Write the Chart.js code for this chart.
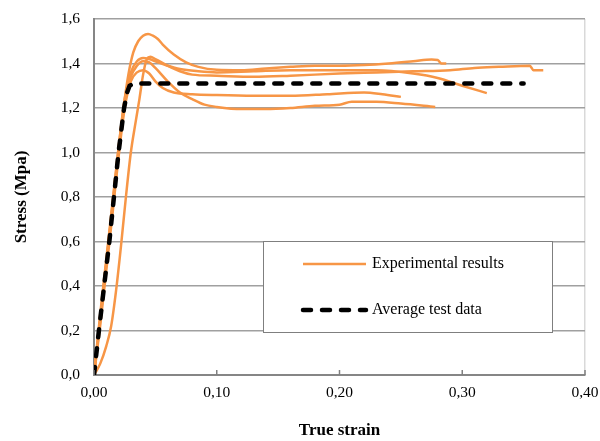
<!DOCTYPE html>
<html>
<head>
<meta charset="utf-8">
<script src="https://cdn.jsdelivr.net/npm/chart.js@4/dist/chart.umd.min.js"></script>
<style>
  html, body { margin: 0; padding: 0; background: #fff; }
  #wrap { width: 600px; height: 441px; }
</style>
</head>
<body>
<div id="wrap"><canvas id="c"></canvas></div>
<script>
// tick labels
const xTicks = [0, 0.1, 0.2, 0.3, 0.4];
const yTicks = [0, 0.2, 0.4, 0.6, 0.8, 1.0, 1.2, 1.4, 1.6];

// experimental curves, [strain, stress]
const test1 = [[0,0],[0.005,0.24],[0.01,0.5],[0.015,0.76],[0.02,1.02],[0.025,1.24],[0.028,1.35],[0.032,1.45],[0.036,1.5],[0.04,1.525],[0.044,1.533],[0.048,1.525],[0.052,1.51],[0.056,1.485],[0.065,1.44],[0.075,1.405],[0.085,1.385],[0.1,1.372],[0.12,1.37],[0.14,1.378],[0.16,1.385],[0.18,1.39],[0.2,1.39],[0.22,1.393],[0.24,1.4],[0.26,1.41],[0.275,1.418],[0.28,1.416],[0.283,1.4],[0.287,1.4]];
const test2 = [[0,0],[0.005,0.05],[0.01,0.13],[0.014,0.22],[0.018,0.38],[0.022,0.58],[0.026,0.8],[0.03,1.0],[0.034,1.14],[0.037,1.24],[0.04,1.35],[0.043,1.42],[0.046,1.43],[0.05,1.42],[0.06,1.39],[0.07,1.365],[0.08,1.35],[0.1,1.345],[0.13,1.34],[0.16,1.345],[0.2,1.355],[0.23,1.36],[0.26,1.365],[0.29,1.37],[0.31,1.38],[0.33,1.385],[0.355,1.39],[0.358,1.37],[0.366,1.37]];
const test3 = [[0,0],[0.005,0.27],[0.01,0.52],[0.015,0.77],[0.02,1.02],[0.025,1.24],[0.03,1.36],[0.035,1.41],[0.04,1.425],[0.045,1.42],[0.05,1.41],[0.06,1.39],[0.07,1.375],[0.085,1.365],[0.1,1.36],[0.13,1.365],[0.16,1.37],[0.2,1.37],[0.23,1.37],[0.26,1.355],[0.28,1.335],[0.3,1.3],[0.32,1.267]];
const test4 = [[0,0],[0.005,0.22],[0.01,0.47],[0.015,0.72],[0.02,0.98],[0.025,1.2],[0.03,1.32],[0.035,1.36],[0.04,1.37],[0.045,1.355],[0.05,1.32],[0.056,1.29],[0.065,1.27],[0.08,1.262],[0.1,1.258],[0.13,1.255],[0.16,1.255],[0.19,1.262],[0.22,1.27],[0.235,1.262],[0.25,1.25]];
const test5 = [[0,0],[0.005,0.25],[0.01,0.5],[0.015,0.75],[0.02,1.0],[0.025,1.22],[0.03,1.34],[0.035,1.39],[0.04,1.41],[0.045,1.405],[0.05,1.38],[0.06,1.32],[0.07,1.27],[0.08,1.24],[0.09,1.215],[0.1,1.205],[0.12,1.195],[0.14,1.195],[0.16,1.2],[0.18,1.21],[0.2,1.215],[0.21,1.228],[0.23,1.228],[0.25,1.22],[0.278,1.205]];

// average test data
const average = [[0,0],[0.004,0.2],[0.0125,0.6],[0.02,1.0],[0.0245,1.2],[0.027,1.27],[0.029,1.3],[0.032,1.31],[0.35,1.31]];

const ORANGE = "#F79646";
const FONT = "'Liberation Serif', 'Times New Roman', serif";

const toPts = (arr) => arr.map(p => ({ x: p[0], y: p[1] }));

function expSet(arr) {
  return {
    label: "Experimental results",
    data: toPts(arr),
    borderColor: ORANGE,
    borderWidth: 2.5,
    pointRadius: 0,
    showLine: true,
    cubicInterpolationMode: "monotone",
    order: 1,
  };
}

// legend box inside the plot + small inward ticks on the x axis
const extras = {
  id: "extras",
  afterDraw(chart) {
    const ctx = chart.ctx;
    const xs = chart.scales.x;
    const area = chart.chartArea;
    ctx.save();
    ctx.strokeStyle = "#808080";
    ctx.lineWidth = 1.5;
    xTicks.forEach(v => {
      const px = xs.getPixelForValue(v);
      ctx.beginPath();
      ctx.moveTo(px, area.bottom);
      ctx.lineTo(px, area.bottom - 5);
      ctx.stroke();
    });

    const bx = 263, by = 241, bw = 289, bh = 91;
    ctx.fillStyle = "#fff";
    ctx.fillRect(bx, by, bw, bh);
    ctx.strokeStyle = "#7f7f7f";
    ctx.lineWidth = 1;
    ctx.strokeRect(bx + 0.5, by + 0.5, bw, bh);

    const items = [chart.data.datasets[1], chart.data.datasets[0]];
    const rows = [264, 310];
    items.forEach((ds, i) => {
      const y = rows[i];
      ctx.beginPath();
      ctx.strokeStyle = ds.borderColor;
      ctx.lineWidth = ds.borderWidth;
      ctx.setLineDash(ds.borderDash || []);
      ctx.lineCap = ds.borderCapStyle || "butt";
      ctx.moveTo(303, y);
      ctx.lineTo(366, y);
      ctx.stroke();
      ctx.setLineDash([]);
      ctx.fillStyle = "#000";
      ctx.font = "16px " + FONT;
      ctx.textBaseline = "middle";
      ctx.textAlign = "left";
      ctx.fillText(ds.label, 372, y);
    });
    ctx.restore();
  },
};

new Chart(document.getElementById("c"), {
  type: "scatter",
  data: {
    datasets: [
      {
        label: "Average test data",
        data: toPts(average),
        borderColor: "#000",
        borderWidth: 4.5,
        borderDash: [8, 11],
        borderCapStyle: "round",
        pointRadius: 0,
        showLine: true,
        order: 0,
      },
      expSet(test1),
      expSet(test2),
      expSet(test3),
      expSet(test4),
      expSet(test5),
    ],
  },
  options: {
    responsive: true,
    maintainAspectRatio: false,
    animation: false,
    layout: { padding: { left: 11, right: 15, top: 19, bottom: 0 } },
    plugins: { legend: { display: false }, tooltip: { enabled: false } },
    scales: {
      x: {
        type: "linear",
        min: 0,
        max: 0.4,
        afterBuildTicks: (s) => { s.ticks = xTicks.map(v => ({ value: v })); },
        afterFit: (s) => { s.paddingLeft = 0; s.paddingRight = 0; s.height = 66; },
        ticks: {
          padding: 9,
          color: "#000",
          font: { family: FONT, size: 15.5 },
          callback: (v) => v.toFixed(2).replace(".", ","),
        },
        grid: {
          drawTicks: false,
          color: (c) => (c.tick && c.tick.value === 0.4 ? "#D9D9D9" : "rgba(0,0,0,0)"),
          lineWidth: 1.5,
        },
        border: { display: true, color: "#868686", width: 2 },
        title: {
          display: true,
          text: "True strain",
          color: "#000",
          font: { family: FONT, size: 17, weight: "bold" },
          padding: { top: 0, bottom: 0 },
        },
      },
      y: {
        min: 0,
        max: 1.6,
        afterBuildTicks: (s) => { s.ticks = yTicks.map(v => ({ value: v })); },
        afterFit: (s) => { s.width = 83; s.paddingTop = 0; s.paddingBottom = 0; },
        ticks: {
          padding: 14,
          color: "#000",
          font: { family: FONT, size: 15.5 },
          callback: (v) => v.toFixed(1).replace(".", ","),
        },
        grid: { drawTicks: false, color: "#A0A0A0", lineWidth: 1.5 },
        border: { display: true, color: "#868686", width: 2 },
        title: {
          display: true,
          text: "Stress (Mpa)",
          color: "#000",
          font: { family: FONT, size: 17, weight: "bold" },
          padding: { top: 0, bottom: 0 },
        },
      },
    },
  },
  plugins: [extras],
});
</script>
</body>
</html>
